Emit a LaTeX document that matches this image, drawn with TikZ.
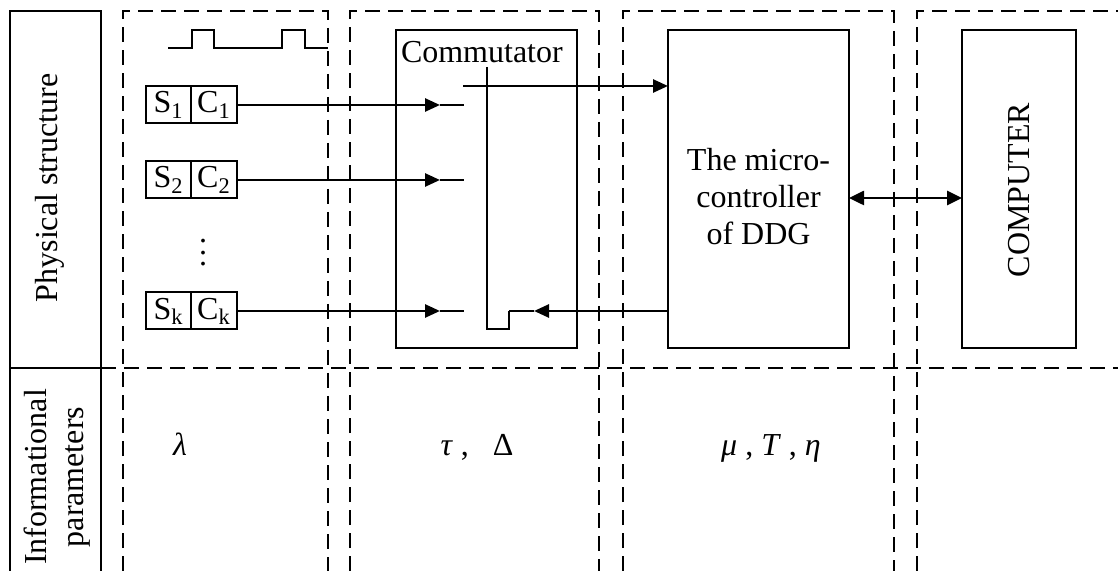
\documentclass[tikz,border=0pt]{standalone}
\usepackage{fontspec}
\setmainfont{Liberation Serif}
\usetikzlibrary{arrows.meta,positioning}

\begin{document}
\begin{tikzpicture}[x=0.5pt,y=-0.5pt,line width=1pt,
  font=\fontsize{16}{18.5}\selectfont,
  box/.style={draw,rectangle,outer sep=0pt,inner sep=0pt},
  sensor/.style={box,minimum width=22.75pt,minimum height=18.5pt},
  zone/.style={dash pattern=on 7.5pt off 4pt},
  flow/.style={line width=1.3pt,-{Triangle[length=7.5pt,width=6.5pt]}},
  duplex/.style={line width=1.3pt,{Triangle[length=7.5pt,width=7pt]}-{Triangle[length=7.5pt,width=7pt]}}]
  \useasboundingbox (0,0) rectangle (1118,571);
  \node [box,minimum width=45.5pt,minimum height=178.5pt] (phys) at (55.5,189.5) {};
  \node [rotate=90] (physlabel) at (50,188) {Physical structure};
  \coordinate (infoL) at (10,571);
  \coordinate (infoR) at (101,571);
  \draw (phys.south west) -- (infoL);
  \draw (phys.south east) -- (infoR);
  \node [rotate=90,align=center] (infolabel) at (57,477) {Informational\\parameters};
  \foreach \l/\r in {123/328,350/599,623/894}
    \draw [zone] (\l,571) |- (\r,11) -- (\r,571);
  \draw [zone] (917,571) |- (1118,11);
  \draw [zone] (phys.south east) -- (1118,368);
  \draw (168,48) -- (192,48) -- (192,30) -- (214,30) -- (214,48) -- (282,48)
    -- (282,30) -- (305,30) -- (305,48) -- (328,48);
  \foreach \i/\y in {1/105,2/180,k/311} {
    \node [sensor] (s\i) at (168.5,\y) {S\textsubscript{\i}};
    \node [sensor,right=0pt of s\i] (c\i) {C\textsubscript{\i}};
    \coordinate (in\i) at (464,\y);
    \coordinate (tip\i) at (440,\y);
    \draw [flow] (c\i.east) -- (tip\i);
    \draw (tip\i) -- (in\i);
  }
  \node (dots) at (203,253) {\vbox{\baselineskip=5.75pt\lineskiplimit=0pt\hbox{.}\hbox{.}\hbox{.}}};
  \node [box,minimum width=90.5pt,minimum height=159pt] (comm) at (486.5,189) {};
  \node [anchor=base west,inner sep=0pt] (commlabel) at (400,63) {Commutator};
  \coordinate (levertop) at (487,67);
  \coordinate (sw) at (509,311);
  \draw (levertop) |- (509,329) -- (sw);
  \coordinate (out) at (463,86);
  \node [box,minimum width=90.5pt,minimum height=159pt] (micro) at (758.5,189) {};
  \node [align=center] (microlabel) at (758.5,197) {The micro-\\controller\\of DDG};
  \draw [flow] (out) -- (out -| micro.west);
  \coordinate (back) at (534,311);
  \draw [flow] (micro.west |- sw) -- (back);
  \draw (back) -- (sw);
  \node [box,minimum width=57pt,minimum height=159pt] (pc) at (1019,189) {};
  \node [rotate=90] (pclabel) at (1019,190) {COMPUTER};
  \draw [duplex] ([yshift=-4.5pt]micro.east) -- ([yshift=-4.5pt]pc.west);
  \node [anchor=base] (lambda) at (180,455) {\textit{λ}};
  \node [anchor=base] (tau) at (477,455) {\textit{τ} ,\enspace\ Δ};
  \node [anchor=base] (mu) at (771,455) {\textit{μ} , \textit{T} , \textit{η}};
\end{tikzpicture}
\end{document}
